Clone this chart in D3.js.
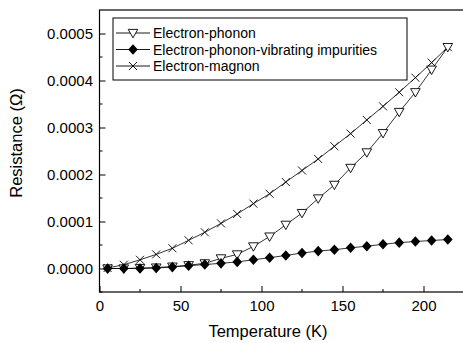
<!DOCTYPE html>
<html><head><meta charset="utf-8">
<script src="https://cdn.jsdelivr.net/npm/d3@7"></script>
<style>html,body{margin:0;padding:0;background:#fff;overflow:hidden}</style>
</head><body>
<svg id="c" width="463" height="343"></svg>
<script>
const temperature = [5,15,25,35,45,55,65,75,85,95,105,115,125,135,145,155,165,175,185,195,205,215];
const electronPhonon = [0,0,0.000001,0.000002,0.000004,0.000007,0.000011,0.0000215,0.00003,0.000047,0.000068,0.000093,0.000118,0.000149,0.000178,0.000214,0.000247,0.000288,0.000333,0.000375,0.000423,0.000471];
const electronPhononVibImp = [0,0,0,0.000001,0.000003,0.000006,0.0000085,0.000011,0.000014,0.0000185,0.000023,0.0000277,0.000033,0.000037,0.00004,0.000044,0.0000475,0.0000515,0.000055,0.0000575,0.0000595,0.0000617];
const electronMagnon = [0.000001,0.000008,0.0000185,0.00003,0.000043,0.00006,0.000077,0.000096,0.000116,0.000138,0.000159,0.000184,0.0002085,0.000233,0.00026,0.000287,0.000316,0.000345,0.000375,0.000406,0.000438,0.000471];
const seriesNames = ["Electron-phonon","Electron-phonon-vibrating impurities","Electron-magnon"];
const xTicks = [0,50,100,150,200];
const yTicks = [0,0.0001,0.0002,0.0003,0.0004,0.0005];
const xTitle = "Temperature (K)";
const yTitle = "Resistance  (\u03A9)";

const svg = d3.select("#c");
const L=99.5, R=464, T=10, B=292;
const x = d3.scaleLinear().domain([0,225]).range([L,R]);
const y = d3.scaleLinear().domain([-0.00005,0.00055]).range([B,T]);
const font = "Arial, 'Liberation Sans', Helvetica, sans-serif";

// frame
svg.append("rect").attr("x",L).attr("y",T).attr("width",R-L).attr("height",B-T)
  .attr("fill","none").attr("stroke","#000").attr("stroke-width",1.2);

// x axis (ticks inward)
const xAxis = d3.axisBottom(x).tickValues(xTicks).tickSize(-6).tickPadding(8).tickFormat(d3.format("d"));
const gx = svg.append("g").attr("transform",`translate(0,${B})`).call(xAxis);
gx.select(".domain").remove();
gx.selectAll("text").attr("font-family",font).attr("font-size",15).attr("fill","#000");
gx.selectAll("line").attr("stroke","#000");
svg.append("g").selectAll("line").data([25,75,125,175,225].filter(v=>x(v)<R)).join("line")
  .attr("x1",d=>x(d)).attr("x2",d=>x(d)).attr("y1",B).attr("y2",B-3).attr("stroke","#000");

// y axis
const yAxis = d3.axisLeft(y).tickValues(yTicks).tickSize(-6).tickPadding(6.5).tickFormat(d3.format(".4f"));
const gy = svg.append("g").attr("transform",`translate(${L},0)`).call(yAxis);
gy.select(".domain").remove();
gy.selectAll("text").attr("font-family",font).attr("font-size",15).attr("fill","#000");
gy.selectAll("line").attr("stroke","#000");
svg.append("g").selectAll("line").data([-0.00005,0.00005,0.00015,0.00025,0.00035,0.00045]).join("line")
  .attr("x1",L).attr("x2",L+3).attr("y1",d=>y(d)).attr("y2",d=>y(d)).attr("stroke","#000");

// titles
svg.append("text").attr("x",268).attr("y",337).attr("text-anchor","middle")
  .attr("font-family",font).attr("font-size",16.5).text(xTitle);
svg.append("text").attr("transform","translate(22,143) rotate(-90)").attr("text-anchor","middle")
  .attr("font-family",font).attr("font-size",16.5).text(yTitle);

const line = d3.line().x(d=>x(d[0])).y(d=>y(d[1]));
const mk = (vals)=>temperature.map((t,i)=>[t,vals[i]]);

const triPath = "M-4.8,-3.6L4.8,-3.6L0,4.8Z";
const diaPath = "M0,-5.3L4.8,0L0,5.3L-4.8,0Z";
const xPath = "M-4,-4L4,4M-4,4L4,-4";

function drawMarker(g, type){
  if(type===0) g.append("path").attr("d",triPath).attr("fill","#fff").attr("stroke","#000").attr("stroke-width",0.9);
  else if(type===1) g.append("path").attr("d",diaPath).attr("fill","#000");
  else g.append("path").attr("d",xPath).attr("fill","none").attr("stroke","#000").attr("stroke-width",0.9);
}

const series = [[electronMagnon,2],[electronPhonon,0],[electronPhononVibImp,1]];
series.forEach(([vals,type])=>{
  const data = mk(vals);
  svg.append("path").datum(data).attr("d",line).attr("fill","none").attr("stroke","#000").attr("stroke-width",0.8);
  svg.append("g").selectAll("g").data(data).join("g")
    .attr("transform",d=>`translate(${x(d[0])},${y(d[1])})`)
    .each(function(){ drawMarker(d3.select(this), type); });
});

// legend
const lg = svg.append("g");
lg.append("rect").attr("x",113).attr("y",18).attr("width",294).attr("height",62)
  .attr("fill","#fff").attr("stroke","#000").attr("stroke-width",1);
seriesNames.forEach((n,i)=>{
  const yy = 33 + i*16.5;
  lg.append("line").attr("x1",116).attr("x2",150).attr("y1",yy).attr("y2",yy).attr("stroke","#000").attr("stroke-width",0.9);
  const g = lg.append("g").attr("transform",`translate(133,${yy})`);
  drawMarker(g,i);
  lg.append("text").attr("x",153).attr("y",yy+5).attr("font-family",font).attr("font-size",14).text(n);
});
</script>
</body></html>
